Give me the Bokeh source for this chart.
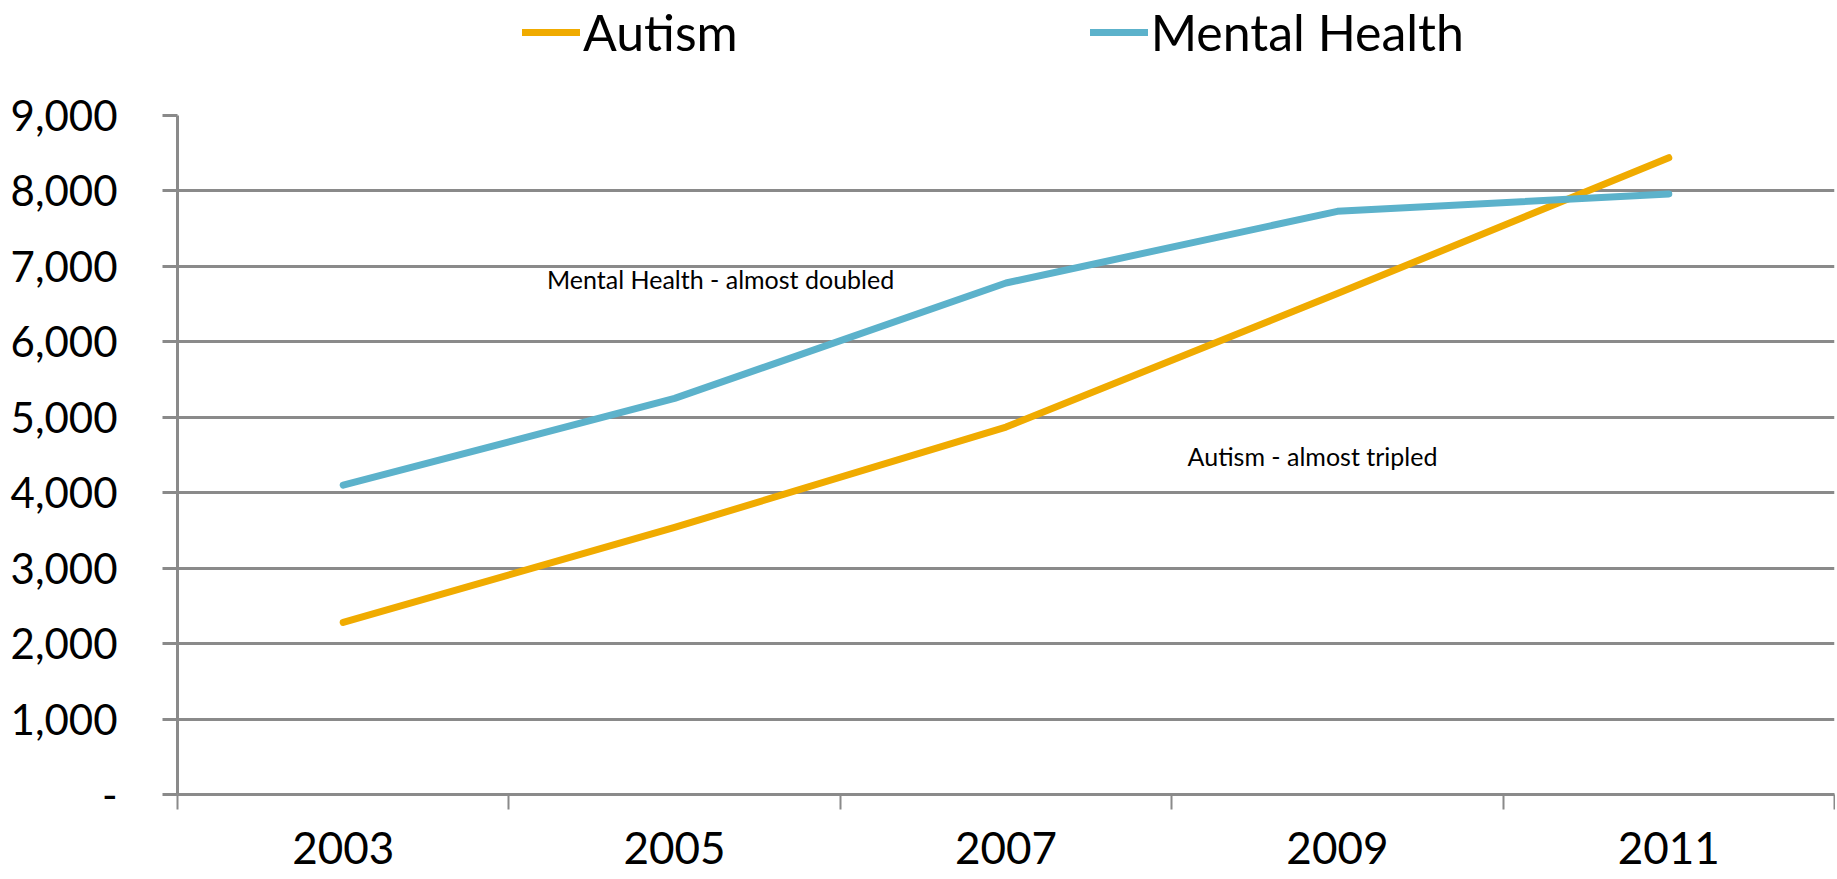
import numpy as np
from bokeh.plotting import figure
from bokeh.layouts import column
from bokeh.models import (Range1d, FixedTicker, NumeralTickFormatter, Legend, LegendItem,
                          ColumnDataSource, Label)
from bokeh.embed import file_html
from bokeh.resources import INLINE

years = ["2003", "2005", "2007", "2009", "2011"]
autism = [2280, 3540, 4870, 6640, 8440]
mental_health = [4100, 5250, 6780, 7730, 7960]
y_ticks = [0, 1000, 2000, 3000, 4000, 5000, 6000, 7000, 8000, 9000]
series_names = ["Autism", "Mental Health"]

FONT = "Lato"
ORANGE = "#F0AB00"
BLUE = "#5CB2CB"
GRAY = "#8A8A8A"

W = 1835
TOP_H = 85
MAIN_H = 792
LEFT = 177
RIGHT = 1

x = np.arange(len(years)) + 0.5
src = ColumnDataSource(dict(x=x, autism=autism, mh=mental_health))

# ---- legend strip on top (its own frame holds no visible data) ----
top = figure(width=W, height=TOP_H, output_backend="svg", toolbar_location=None,
             x_range=Range1d(0, len(years)), y_range=Range1d(-2, -1),
             min_border_left=LEFT, min_border_right=RIGHT, min_border_top=0, min_border_bottom=0)
top.axis.visible = False
top.grid.visible = False
top.outline_line_color = None
lr1 = top.line("x", "autism", source=src, line_color=ORANGE, line_width=7, line_cap="round")
lr2 = top.line("x", "mh", source=src, line_color=BLUE, line_width=7, line_cap="round")
legend = Legend(items=[LegendItem(label=series_names[0], renderers=[lr1]),
                       LegendItem(label=series_names[1], renderers=[lr2])],
                orientation="horizontal", location=(345, 23),
                label_text_font=FONT, label_text_font_size="50px",
                label_text_color="black", glyph_width=58, glyph_height=58,
                label_height=58, label_standoff=3, spacing=352,
                padding=0, margin=0, border_line_color=None,
                background_fill_alpha=0)
top.add_layout(legend, "center")

# ---- main chart ----
p = figure(width=W, height=MAIN_H, output_backend="svg", toolbar_location=None,
           x_range=Range1d(0, len(years)), y_range=Range1d(0, 9000),
           min_border_left=LEFT, min_border_right=RIGHT, min_border_top=30, min_border_bottom=83)
p.outline_line_color = None
p.background_fill_color = "white"
p.border_fill_color = "white"

p.line("x", "autism", source=src, line_color=ORANGE, line_width=7,
       line_cap="round", line_join="round")
p.line("x", "mh", source=src, line_color=BLUE, line_width=7,
       line_cap="round", line_join="round")

# x axis
p.xaxis.ticker = FixedTicker(ticks=list(x), minor_ticks=list(range(len(years) + 1)))
p.xaxis.major_label_overrides = {float(v): y for v, y in zip(x, years)}
p.xaxis.major_tick_line_color = None
p.xaxis.major_tick_out = 15
p.xaxis.major_tick_in = 0
p.xaxis.minor_tick_line_color = GRAY
p.xaxis.minor_tick_line_width = 2
p.xaxis.minor_tick_out = 15
p.xaxis.minor_tick_in = 0
p.xaxis.axis_line_color = GRAY
p.xaxis.axis_line_width = 3
p.xaxis.major_label_text_font = FONT
p.xaxis.major_label_text_font_size = "44px"
p.xaxis.major_label_text_color = "black"
p.xaxis.major_label_text_line_height = 0.8
p.xaxis.major_label_standoff = 22
p.xgrid.grid_line_color = None

# y axis
p.yaxis.ticker = FixedTicker(ticks=y_ticks)
p.yaxis.formatter = NumeralTickFormatter(format="0,0")
p.yaxis.major_label_overrides = {0: "-"}
p.yaxis.axis_line_color = GRAY
p.yaxis.axis_line_width = 3
p.yaxis.major_tick_line_color = GRAY
p.yaxis.major_tick_line_width = 3
p.yaxis.major_tick_out = 15
p.yaxis.major_tick_in = 0
p.yaxis.minor_tick_line_color = None
p.yaxis.major_label_text_font = FONT
p.yaxis.major_label_text_font_size = "42px"
p.yaxis.major_label_text_color = "black"
p.yaxis.major_label_standoff = 45
p.ygrid.grid_line_color = GRAY
p.ygrid.grid_line_width = 3
p.ygrid.ticker = FixedTicker(ticks=y_ticks)

# annotations
p.add_layout(Label(x=1.115, y=6830, text="Mental Health - almost doubled",
                   text_font=FONT, text_font_size="25px", text_color="black",
                   text_baseline="middle", text_align="left"))
p.add_layout(Label(x=3.048, y=4490, text="Autism - almost tripled",
                   text_font=FONT, text_font_size="25px", text_color="black",
                   text_baseline="middle", text_align="left"))

layout = column(top, p, spacing=0)
open("out.html", "w").write(file_html(layout, INLINE))
